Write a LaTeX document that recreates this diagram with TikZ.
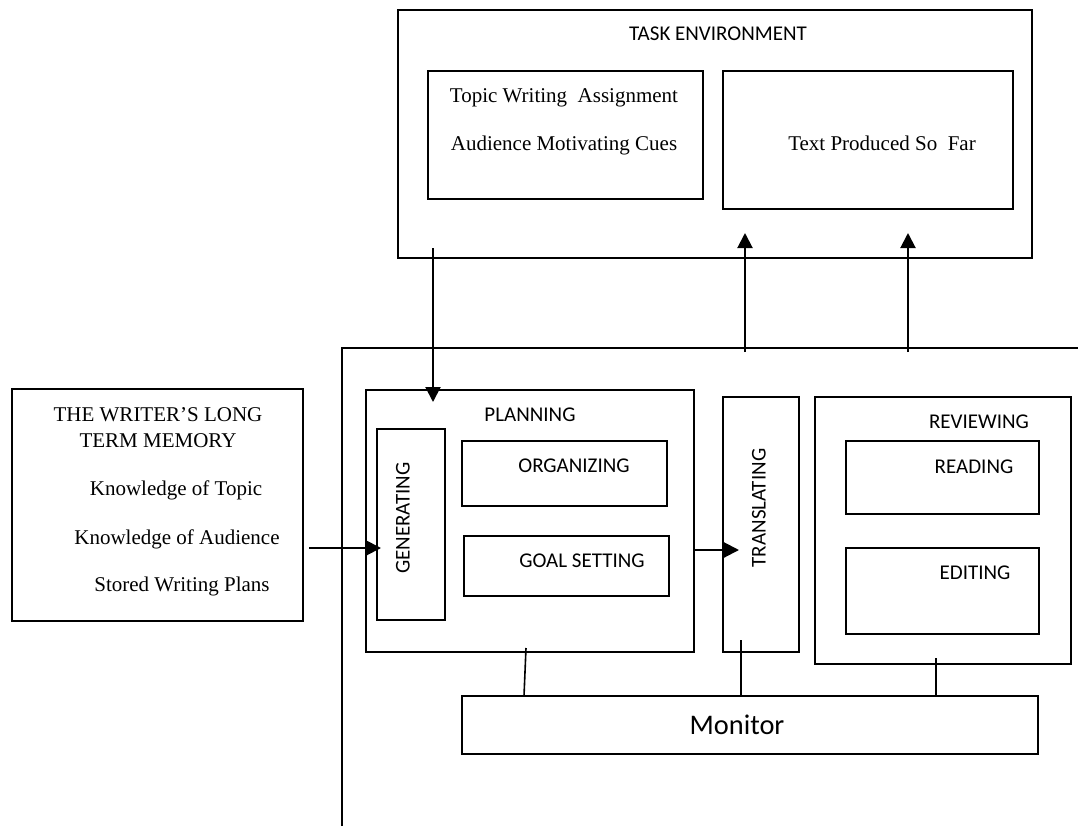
\documentclass[tikz,border=0pt]{standalone}
\usepackage{fontspec}
\setmainfont{Liberation Serif}
\newfontfamily\calibri{Carlito}
\usetikzlibrary{arrows.meta,fit}
\begin{document}
\begin{tikzpicture}[x=0.5pt,y=-0.5pt,
  box/.style={draw,line width=1pt,inner sep=0pt},
  ser/.style={font=\fontsize{10.5}{12}\selectfont,anchor=base,inner sep=0pt},
  sans/.style={font=\calibri\fontsize{10.5}{12}\selectfont,anchor=base,inner sep=0pt},
  vsans/.style={font=\calibri\fontsize{10.5}{12}\selectfont,rotate=90,inner sep=0pt},
  arr/.style={line width=1pt,-{Triangle[length=7.5pt,width=7.5pt]}},
  conn/.style={line width=0.8pt}]
\useasboundingbox (0,0) rectangle (1078,826);

% boxes
\node[box,fit={(398,10) (1032,258)}] (task) {};
\node[box,fit={(428,71) (703,199)}] (topic) {};
\node[box,fit={(723,71) (1013,209)}] (sofar) {};
\node[box,fit={(12,389) (303,621)}] (ltm) {};
\node[box,fit={(366,390) (694,652)}] (plan) {};
\node[box,fit={(377,429) (445,620)}] (gen) {};
\node[box,fit={(462,441) (667,506)}] (org) {};
\node[box,fit={(464,536) (669,596)}] (goal) {};
\node[box,fit={(723,397) (799,652)}] (trans) {};
\node[box,fit={(815,397) (1071,664)}] (rev) {};
\node[box,fit={(846,441) (1039,514)}] (read) {};
\node[box,fit={(846,548) (1039,634)}] (edit) {};
\node[box,fit={(462,696) (1038,754)}] (mon) {};

% texts
\node[sans] (tasklbl) at (718,40) {TASK ENVIRONMENT};
\node[ser] (t1) at (564,102) {Topic Writing\ \ Assignment};
\node[ser] (t2) at (564,150) {Audience Motivating Cues};
\node[ser] (t3) at (882,150) {Text Produced So\ \ Far};
\node[ser] (l1) at (158,421) {THE WRITER’S LONG};
\node[ser] (l2) at (158,447) {TERM MEMORY};
\node[ser] (l3) at (176,495) {Knowledge of Topic};
\node[ser] (l4) at (177,544) {Knowledge of Audience};
\node[ser] (l5) at (182,591) {Stored Writing Plans};
\node[sans] (planlbl) at (530,421) {PLANNING};
\node[sans] (orglbl) at (574,472) {ORGANIZING};
\node[sans] (goallbl) at (582,567) {GOAL SETTING};
\node[vsans] (genlbl) at (403,518) {GENERATING};
\node[vsans] (translbl) at (759,508) {TRANSLATING};
\node[sans] (revlbl) at (979,428) {REVIEWING};
\node[sans] (readlbl) at (974,473) {READING};
\node[sans] (editlbl) at (975,579) {EDITING};
\node[font=\calibri\fontsize{14.2}{16}\selectfont,anchor=base,inner sep=0pt] (monlbl) at (737,734) {Monitor};

% frame of the writing process
\coordinate (fb) at (342,826);
\coordinate (fc) at (342,348);
\coordinate (fr) at (1078,348);
\draw[conn] (fb) -- (fc) -- (fr);

% arrows
\coordinate (a1s) at (433,248);
\coordinate (a1e) at (433,402);
\draw[arr] (a1s) -- (a1e);
\coordinate (a2s) at (745,352);
\coordinate (a2e) at (745,233);
\draw[arr] (a2s) -- (a2e);
\coordinate (a3s) at (908,352);
\coordinate (a3e) at (908,233);
\draw[arr] (a3s) -- (a3e);
\coordinate (a4s) at (309,548);
\coordinate (a4e) at (381,548);
\draw[arr] (a4s) -- (a4e);
\coordinate (a5s) at (693,550);
\coordinate (a5e) at (739,550);
\draw[arr] (a5s) -- (a5e);

% monitor connectors
\coordinate (m1s) at (526,648);
\coordinate (m1e) at (524,696);
\draw[conn] (m1s) -- (m1e);
\coordinate (m2s) at (741,640);
\coordinate (m2e) at (741,696);
\draw[conn] (m2s) -- (m2e);
\coordinate (m3s) at (936,658);
\coordinate (m3e) at (936,696);
\draw[conn] (m3s) -- (m3e);
\end{tikzpicture}
\end{document}
